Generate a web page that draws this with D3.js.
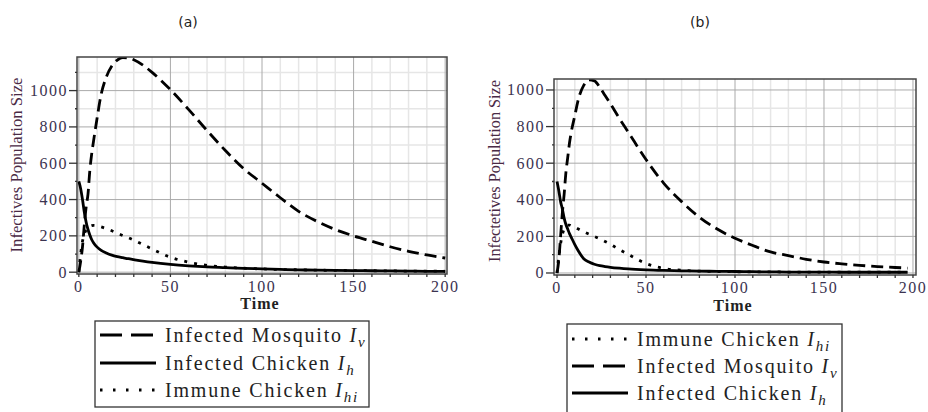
<!DOCTYPE html>
<html lang="en">
<head>
<meta charset="UTF-8">
<title>Infectives</title>
<script src="https://cdn.jsdelivr.net/npm/d3@7"></script>
<style>
  body { margin: 0; background: #fff; }
  svg { display: block; }
  .tick-lbl { font-family: "Times New Roman", "Liberation Serif", "DejaVu Serif", serif; font-size: 16px; fill: #3b3350; letter-spacing: 1.5px; }
  .ylbl { font-family: "Times New Roman", "Liberation Serif", "DejaVu Serif", serif; font-size: 16px; fill: #4a2a45; }
  .xlbl { font-family: "Times New Roman", "Liberation Serif", "DejaVu Serif", serif; font-size: 16px; fill: #222; font-weight: bold; letter-spacing: 1px; }
  .title { font-family: "DejaVu Sans", sans-serif; font-size: 14px; fill: #222; }
  .leg { font-family: "Times New Roman", "Liberation Serif", "DejaVu Serif", serif; font-size: 20px; fill: #222; letter-spacing: 1.8px; }
</style>
</head>
<body>
<svg width="928" height="412"></svg>
<script>
// time grid (same for both panels, b stops a bit short of 200)
const timeA = [0,1,2,3,4,5,6,7,8,10,12,15,18,21,24,27,30,35,40,50,60,70,80,90,100,110,120,130,140,150,160,170,180,190,200];
const timeB = [0,1,2,3,4,5,6,7,8,10,12,15,18,21,24,27,30,35,40,50,60,70,80,90,100,110,120,130,140,150,160,170,180,190,197];

// panel (a)
const mosqA  = [0,60,140,260,360,430,560,650,720,850,970,1075,1135,1168,1182,1180,1170,1140,1100,1005,895,780,670,570,490,410,335,280,235,200,170,140,115,95,78];
const chickA = [500,460,400,330,275,235,205,180,162,138,122,106,94,86,80,74,69,61,54,43,35,29,25,21,18,15,13,11,10,9,8,7,6,5,5];
const immA   = [0,100,170,210,232,245,252,256,258,256,250,240,228,215,202,190,176,152,128,82,55,38,28,22,18,15,13,11,10,9,8,7,6,6,5];

// panel (b)
const mosqB  = [0,70,200,330,430,550,630,710,770,860,950,1025,1055,1050,1015,970,925,845,770,620,490,390,305,240,190,150,115,95,75,60,50,42,35,30,27];
const chickB = [500,450,390,350,300,265,240,215,195,155,120,78,60,48,40,35,31,26,22,17,14,12,10,9,8,7,6,5,5,5,4,4,4,4,4];
const immB   = [0,90,160,210,240,255,262,262,258,250,240,225,212,200,187,172,157,128,102,52,25,15,10,8,7,6,6,5,5,5,5,5,5,5,5];

const xTicks = [0,50,100,150,200];
const yTicks = [0,200,400,600,800,1000];

const styles = {
  mosq:  "12,6",
  chick: null,
  imm:   "3,7"
};
const legStyles = {
  mosq:  "22,9",
  chick: null,
  imm:   "2.5,10.5"
};

const svg = d3.select("svg");

function panel(cfg) {
  const x = d3.scaleLinear().domain(cfg.xDom).range(cfg.xRange);
  const y = d3.scaleLinear().domain(cfg.yDom).range(cfg.yRange);
  const g = svg.append("g");
  const [x0, x1] = cfg.xRange, [y0, y1] = cfg.yRange; // y0 bottom, y1 top

  // minor grid
  g.selectAll(".mgx").data(d3.range(10, 200, 10).filter(v => v % 50))
    .join("line").attr("x1", d => x(d)).attr("x2", d => x(d)).attr("y1", y1).attr("y2", y0)
    .attr("stroke", "#e6e6e6").attr("stroke-width", 1.5);
  g.selectAll(".mgy").data(d3.range(100, cfg.yDom[1], 200))
    .join("line").attr("y1", d => y(d)).attr("y2", d => y(d)).attr("x1", x0).attr("x2", x1)
    .attr("stroke", "#e6e6e6").attr("stroke-width", 1.5);
  // major grid
  g.selectAll(".gx").data(xTicks)
    .join("line").attr("x1", d => x(d)).attr("x2", d => x(d)).attr("y1", y1).attr("y2", y0)
    .attr("stroke", "#aaa").attr("stroke-width", 1);
  g.selectAll(".gy").data(yTicks)
    .join("line").attr("y1", d => y(d)).attr("y2", d => y(d)).attr("x1", x0).attr("x2", x1)
    .attr("stroke", "#aaa").attr("stroke-width", 1);

  // clip + curves
  const cid = "clip" + cfg.name;
  svg.append("clipPath").attr("id", cid).append("rect")
    .attr("x", x0).attr("y", y1).attr("width", x1 - x0).attr("height", y0 - y1);
  const line = d3.line().curve(d3.curveMonotoneX);
  const cg = g.append("g").attr("clip-path", `url(#${cid})`);
  cfg.series.forEach(s => {
    cg.append("path")
      .attr("d", line(cfg.time.map((t, i) => [x(t), y(s.values[i])])))
      .attr("fill", "none").attr("stroke", "#000").attr("stroke-width", 2.8)
      .attr("stroke-dasharray", styles[s.key]);
  });

  // frame
  g.append("rect").attr("x", x0).attr("y", y1).attr("width", x1 - x0).attr("height", y0 - y1)
    .attr("fill", "none").attr("stroke", "#444").attr("stroke-width", 1.5);

  // ticks
  g.selectAll(".tx").data(d3.range(0, 201, 10))
    .join("line").attr("x1", d => x(d)).attr("x2", d => x(d)).attr("y1", y0).attr("y2", y0 + 3)
    .attr("stroke", "#333").attr("stroke-width", 1.3);
  g.selectAll(".ty").data(d3.range(0, cfg.yDom[1], 100))
    .join("line").attr("y1", d => y(d)).attr("y2", d => y(d))
    .attr("x1", d => x0 - (d % 200 ? 2 : 8)).attr("x2", x0)
    .attr("stroke", "#333").attr("stroke-width", 1.3);

  g.selectAll(".lx").data(xTicks)
    .join("text").attr("class", "tick-lbl").attr("x", d => x(d)).attr("y", y0 + 18)
    .attr("text-anchor", "middle").text(d => d);
  g.selectAll(".ly").data(yTicks)
    .join("text").attr("class", "tick-lbl").attr("x", x0 - 9).attr("y", d => y(d) + 5.5)
    .attr("text-anchor", "end").text(d => d);

  g.append("text").attr("class", "xlbl").attr("x", cfg.timeX).attr("y", cfg.timeY)
    .attr("text-anchor", "middle").text("Time");
  g.append("text").attr("class", "ylbl")
    .attr("transform", `translate(${cfg.ylX},${cfg.ylY}) rotate(-90)`)
    .attr("text-anchor", "middle").attr("textLength", cfg.ylLen).attr("lengthAdjust", "spacingAndGlyphs")
    .text(cfg.ylabel);
  g.append("text").attr("class", "title").attr("x", cfg.titleX).attr("y", 27)
    .attr("text-anchor", "middle").text(cfg.title);

  // legend
  const L = cfg.legend;
  g.append("rect").attr("x", L.x).attr("y", L.y).attr("width", L.w).attr("height", L.h)
    .attr("fill", "#fff").attr("stroke", "#333").attr("stroke-width", 1.3);
  L.rows.forEach((r, i) => {
    const cy = L.rowY[i];
    g.append("line").attr("x1", L.x + 5).attr("x2", L.x + 61).attr("y1", cy).attr("y2", cy)
      .attr("stroke", "#000").attr("stroke-width", 2.8).attr("stroke-dasharray", legStyles[r.key]);
    const t = g.append("text").attr("class", "leg").attr("x", L.x + 70).attr("y", cy + 7);
    t.append("tspan").text(r.label + " ");
    t.append("tspan").attr("font-style", "italic").text("I");
    t.append("tspan").attr("font-style", "italic").attr("font-size", 15).attr("dy", 5).text(r.sub);
  });
}

panel({
  name: "a", title: "(a)", titleX: 188,
  xDom: [-1, 201], xRange: [77, 447],
  yDom: [-10, 1185], yRange: [274, 57],
  time: timeA,
  series: [{key: "mosq", values: mosqA}, {key: "chick", values: chickA}, {key: "imm", values: immA}],
  timeX: 260, timeY: 309,
  ylabel: "Infectives Population Size", ylX: 22, ylY: 165, ylLen: 175,
  legend: {x: 95, y: 321, w: 274, h: 86, rowY: [335, 363, 390],
    rows: [{key: "mosq", label: "Infected Mosquito", sub: "v"},
           {key: "chick", label: "Infected Chicken", sub: "h"},
           {key: "imm", label: "Immune Chicken", sub: "hi"}]}
});

panel({
  name: "b", title: "(b)", titleX: 700,
  xDom: [-1.7, 201.7], xRange: [554, 916],
  yDom: [-11, 1060], yRange: [275, 79],
  time: timeB,
  series: [{key: "mosq", values: mosqB}, {key: "chick", values: chickB}, {key: "imm", values: immB}],
  timeX: 733, timeY: 311,
  ylabel: "Infectetives Population Size", ylX: 500, ylY: 171, ylLen: 182,
  legend: {x: 567, y: 324, w: 275, h: 92, rowY: [339, 366, 393],
    rows: [{key: "imm", label: "Immune Chicken", sub: "hi"},
           {key: "mosq", label: "Infected Mosquito", sub: "v"},
           {key: "chick", label: "Infected Chicken", sub: "h"}]}
});
</script>
</body>
</html>
